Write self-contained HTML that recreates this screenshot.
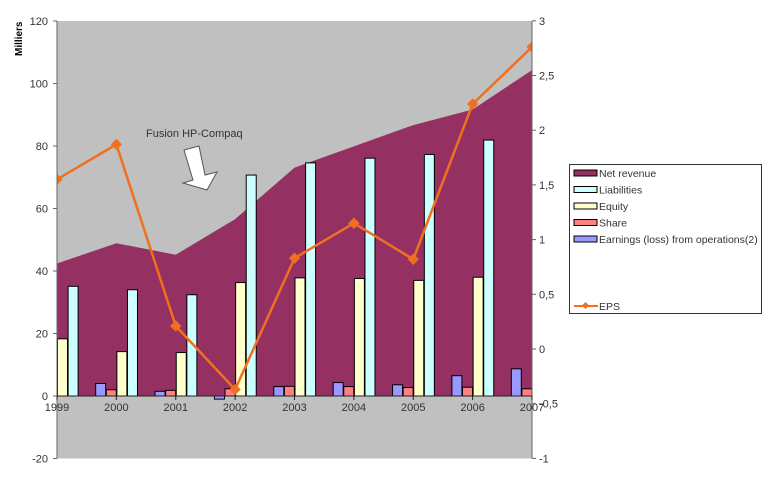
<!DOCTYPE html>
<html><head><meta charset="utf-8"><style>
body{margin:0;background:#fff;width:768px;height:479px;overflow:hidden}
text{font-family:"Liberation Sans",sans-serif;font-size:11px;fill:#333}
</style></head><body>
<svg id="s" width="768" height="479" xmlns="http://www.w3.org/2000/svg">
<defs><clipPath id="c"><rect x="57" y="21" width="475" height="437.5"/></clipPath></defs>
<rect x="57" y="21" width="475" height="437.5" fill="#c0c0c0"/>
<g id="plot" clip-path="url(#c)"></g>
<line x1="57" y1="21" x2="57" y2="458.5" stroke="#666"/>
<line x1="532" y1="21" x2="532" y2="458.5" stroke="#666"/>
<line x1="57" y1="396" x2="532" y2="396" stroke="#222"/>
<g id="ax"></g>
<text x="0" y="0" transform="translate(22,56) rotate(-90)" style="font-weight:bold;font-size:10px;fill:#000">Milliers</text>
<text x="146" y="137" style="font-size:11px">Fusion HP-Compaq</text>
<polygon points="184,150 199,146 205,175 217,172 207,190 183,183 193,180" fill="#fff" stroke="#555" stroke-width="1"/>
<rect x="569.5" y="164.5" width="192" height="149" fill="#fff" stroke="#333"/>
<g id="leg"></g>
</svg>
<script>
const ns="http://www.w3.org/2000/svg";
function el(p,t,a,txt){const e=document.createElementNS(ns,t);for(const k in a)e.setAttribute(k,a[k]);if(txt!==undefined)e.textContent=txt;document.getElementById(p).appendChild(e);return e;}
const X=i=>57+i*59.375, Y=v=>396-v*3.125, YR=v=>349-v*109.4;
const rev=[42.4,48.9,45.2,56.6,73.1,79.9,86.7,91.7,104.3];
let d="M57,"+Y(0);rev.forEach((v,i)=>d+=" L"+X(i)+","+Y(v));d+=" L532,"+Y(0)+" Z";
el("plot","path",{d:d,fill:"#953062"});
const ern=[0,4.0,1.5,-1,3,4.3,3.6,6.5,8.7],sh=[0,2,1.8,2.3,3.1,3,2.7,2.8,2.3],
eq=[18.3,14.2,13.9,36.3,37.8,37.6,37,38,0],li=[35.1,34,32.4,70.7,74.6,76.1,77.3,81.9,0];
const ser=[[ern,"#9999ff",-2],[sh,"#ff8080",-1],[eq,"#ffffcc",0],[li,"#ccffff",1]];
for(let i=0;i<9;i++)ser.forEach(([a,c,o])=>{const v=a[i];if(!v)return;const x=X(i)+o*10.6+0.5;
const y1=Math.min(Y(v),Y(0)),h=Math.abs(Y(v)-Y(0));el("plot","rect",{x:x,y:y1,width:10,height:h,fill:c,stroke:"#000","stroke-width":1});});
const eps=[1.55,1.87,0.21,-0.37,0.83,1.15,0.82,2.24,2.76];
el("plot","polyline",{points:eps.map((v,i)=>X(i)+","+YR(v)).join(" "),fill:"none",stroke:"#f07020","stroke-width":2.5});
eps.forEach((v,i)=>el("plot","rect",{x:X(i)-4,y:YR(v)-4,width:8,height:8,fill:"#f07020",transform:`rotate(45 ${X(i)} ${YR(v)})`}));
for(let v=-20;v<=120;v+=20){el("ax","line",{x1:53,x2:57,y1:Y(v),y2:Y(v),stroke:"#666"});el("ax","text",{x:48,y:Y(v)+4,"text-anchor":"end"},v);}
[-1,-0.5,0,0.5,1,1.5,2,2.5,3].forEach(v=>{el("ax","line",{x1:532,x2:536,y1:YR(v),y2:YR(v),stroke:"#666"});el("ax","text",{x:539,y:YR(v)+4},String(v).replace(".",","));});
for(let i=0;i<9;i++){el("ax","line",{x1:X(i),x2:X(i),y1:396,y2:400,stroke:"#222"});el("ax","text",{x:X(i),y:411,"text-anchor":"middle"},1999+i);}
const L=[["Net revenue","#953062"],["Liabilities","#ccffff"],["Equity","#ffffcc"],["Share","#ff8080"],["Earnings (loss) from operations(2)","#9999ff"]];
L.forEach(([t,c],k)=>{const y=173+k*16.5;el("leg","rect",{x:574,y:y-3,width:23,height:6,fill:c,stroke:"#000"});el("leg","text",{x:599,y:y+4,style:"font-size:10.5px"},t);});
el("leg","line",{x1:574,x2:598,y1:306,y2:306,stroke:"#f07020","stroke-width":2});
el("leg","rect",{x:583,y:303,width:5,height:5,fill:"#f07020",transform:"rotate(45 585.5 305.5)"});
el("leg","text",{x:599,y:310,style:"font-size:10.5px"},"EPS");
</script>
</body></html>
